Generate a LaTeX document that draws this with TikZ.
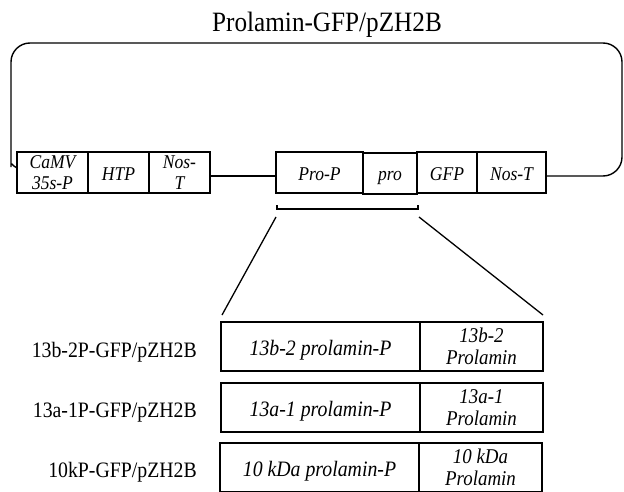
\documentclass[tikz,border=0pt]{standalone}
\usepackage{fontspec}
\setmainfont{Liberation Serif}[FakeStretch=0.9]
\begin{document}
\begin{tikzpicture}[x=1pt,y=-1pt,
  wire/.style={line width=1.4pt},
  gene/.style={draw, line width=1.5pt, rectangle, inner sep=0pt, outer sep=0pt,
    anchor=north west, align=center, minimum height=41pt,
    font=\fontsize{19.5}{20.5}\selectfont\itshape},
  one/.style={text height=15pt, text depth=0pt},
  cell/.style={draw, line width=1.5pt, rectangle, inner sep=0pt, outer sep=0pt,
    anchor=north west, align=center,
    font=\fontsize{22}{21}\selectfont\itshape},
  two/.style={font=\fontsize{21}{21.5}\selectfont\itshape},
  lab/.style={anchor=base east, inner sep=0pt, font=\fontsize{22}{24}\selectfont},
  diag/.style={line width=1.3pt}
]
\useasboundingbox (0,0) rectangle (624,492);

% title
\node[anchor=base, inner sep=0pt, font=\fontsize{28}{30}\selectfont] (title) at (327,32) {Prolamin-GFP/pZH2B};

% top construct
\node[gene, minimum width=71pt] (camv) at (17,152) {CaMV\\35s-P};
\node[gene, one, minimum width=61pt] (htp) at (camv.north east) {HTP};
\node[gene, minimum width=61pt] (nosa) at (htp.north east) {Nos-\\T};
\node[gene, one, minimum width=87pt] (prop) at (276,152) {Pro-P};
\node[gene, one, minimum width=54pt] (pro) at (363,153) {pro};
\node[gene, one, minimum width=60pt] (gfp) at (417,152) {GFP};
\node[gene, one, minimum width=69pt] (nosb) at (gfp.north east) {Nos-T};

% backbone loop
\draw[wire, rounded corners=19pt]
  ([yshift=-16pt]camv.north west) .. controls (12,166) and (11,160) .. (11,148)
  -- (11,43) -- (622,43) -- (622,176) -- ([yshift=-3.5pt]nosb.east);
\draw[wire] ([yshift=-3.5pt]nosa.east) -- ([yshift=-3.5pt]prop.west);

% bracket
\coordinate (bl) at (277,209);
\coordinate (br) at (418,209);
\draw[wire] ([yshift=4pt]bl) -- (bl) -- (br) -- ([yshift=4pt]br);

% zoom lines
\coordinate (dl1) at (276,217);
\coordinate (dl2) at (222,315);
\coordinate (dr1) at (419,217);
\coordinate (dr2) at (543,315);
\draw[diag] (dl1) -- (dl2);
\draw[diag] (dr1) -- (dr2);

% variants
\node[cell, minimum width=199pt, minimum height=49pt, text height=17pt, text depth=0pt] (p1) at (221,322) {13b-2 prolamin-P};
\node[cell, two, minimum width=123pt, minimum height=49pt] (g1) at (p1.north east) {13b-2\\Prolamin};
\node[cell, minimum width=199pt, minimum height=49pt, text height=17pt, text depth=0pt] (p2) at (221,383) {13a-1 prolamin-P};
\node[cell, two, minimum width=123pt, minimum height=49pt] (g2) at (p2.north east) {13a-1\\Prolamin};
\node[cell, minimum width=199pt, minimum height=49pt, text height=17pt, text depth=0pt] (p3) at (220,443) {10 kDa prolamin-P};
\node[cell, two, minimum width=123pt, minimum height=49pt] (g3) at (p3.north east) {10 kDa\\Prolamin};

\node[lab] (l1) at (197,357) {13b-2P-GFP/pZH2B};
\node[lab] (l2) at (197,417) {13a-1P-GFP/pZH2B};
\node[lab] (l3) at (197,477) {10kP-GFP/pZH2B};
\end{tikzpicture}
\end{document}
